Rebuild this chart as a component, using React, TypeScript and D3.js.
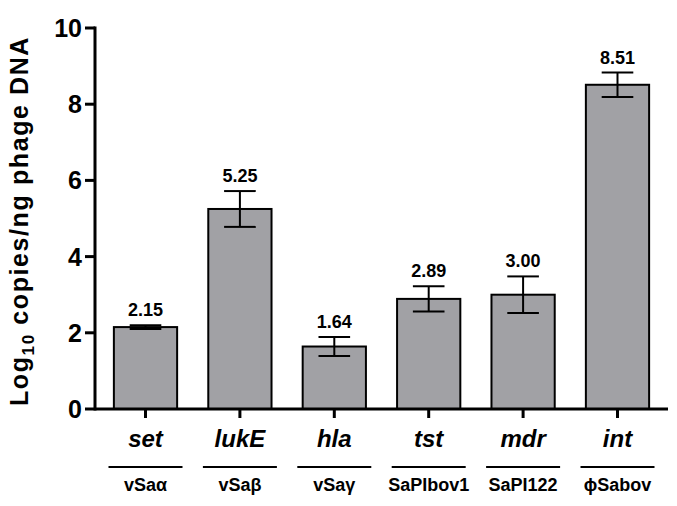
import React from "react";
import * as d3 from "d3";

const genes = ["set", "lukE", "hla", "tst", "mdr", "int"];
const elements = ["vSaα", "vSaβ", "vSaγ", "SaPIbov1", "SaPI122", "ϕSabov"];
const means = [2.15, 5.25, 1.64, 2.89, 3.0, 8.51];
const errors = [0.05, 0.47, 0.25, 0.33, 0.48, 0.32];
const yTicks = [0, 2, 4, 6, 8, 10];

const W = 677;
const H = 506;
const left = 95;
const right = 668;
const top = 28;
const bottom = 409;

export default function App() {
  const x = d3.scaleBand<string>().domain(genes).range([left, right]).paddingInner(0.33).paddingOuter(0.2);
  const y = d3.scaleLinear().domain([0, 10]).range([bottom, top]);
  const bw = x.bandwidth();
  const font = "'Liberation Sans', Arial, sans-serif";
  return (
    <svg width={W} height={H} style={{ position: "absolute", left: 0, top: 0 }} fontFamily={font}>
      <rect width={W} height={H} fill="#fff" />
      {genes.map((g, i) => {
        const x0 = x(g)!;
        const cx = x0 + bw / 2;
        const hi = y(means[i] + errors[i]);
        const lo = y(means[i] - errors[i]);
        return (
          <g key={g}>
            <rect x={x0} y={y(means[i])} width={bw} height={bottom - y(means[i])} fill="#a1a1a5" stroke="#000" strokeWidth={2} />
            <line x1={cx} x2={cx} y1={hi} y2={lo} stroke="#000" strokeWidth={2} />
            <line x1={cx - bw / 4} x2={cx + bw / 4} y1={hi} y2={hi} stroke="#000" strokeWidth={2} />
            <line x1={cx - bw / 4} x2={cx + bw / 4} y1={lo} y2={lo} stroke="#000" strokeWidth={2} />
            <text x={cx} y={hi - 9} textAnchor="middle" fontSize={18} fontWeight="bold">{means[i].toFixed(2)}</text>
            <line x1={cx} x2={cx} y1={bottom} y2={bottom + 9} stroke="#000" strokeWidth={3} />
            <text x={cx} y={447} textAnchor="middle" fontSize={24} fontWeight="bold" fontStyle="italic">{g}</text>
            <line x1={cx - 37} x2={cx + 37} y1={467} y2={467} stroke="#000" strokeWidth={2} />
            <text x={cx} y={491} textAnchor="middle" fontSize={18} fontWeight="bold">{elements[i]}</text>
          </g>
        );
      })}
      <line x1={left} x2={left} y1={top - 1.5} y2={bottom + 1.5} stroke="#000" strokeWidth={3} />
      <line x1={left} x2={right} y1={bottom} y2={bottom} stroke="#000" strokeWidth={3} />
      {yTicks.map((t) => (
        <g key={t}>
          <line x1={left - 10} x2={left} y1={y(t)} y2={y(t)} stroke="#000" strokeWidth={3} />
          <text x={left - 13} y={y(t)} dy="0.36em" textAnchor="end" fontSize={25} fontWeight="bold">{t}</text>
        </g>
      ))}
      <text transform={`translate(28,221) rotate(-90)`} textAnchor="middle" fontSize={25} fontWeight="bold" letterSpacing={1.6}>
        Log<tspan fontSize={17} dy={6}>10</tspan><tspan dy={-6}> copies/ng phage DNA</tspan>
      </text>
    </svg>
  );
}
